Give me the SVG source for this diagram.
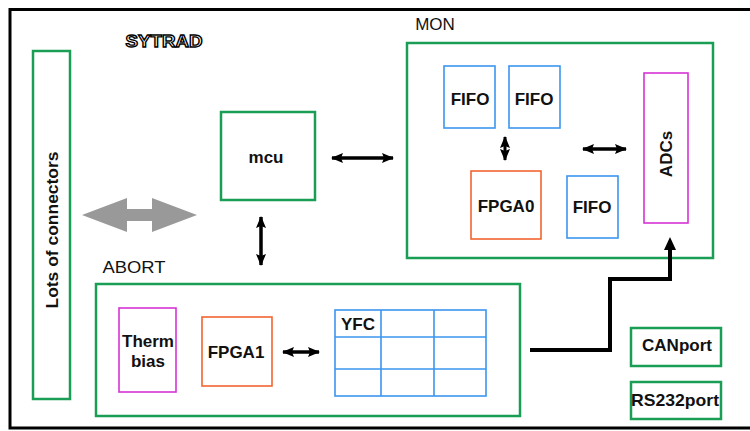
<svg xmlns="http://www.w3.org/2000/svg" width="750" height="431" viewBox="0 0 750 431">
<defs>
<style>
.t{font-family:"Liberation Sans",Arial,sans-serif;font-size:16px;font-weight:bold;fill:#111;text-anchor:middle}
.g{fill:none;stroke:#1a9e55;stroke-width:2.5}
.b{fill:none;stroke:#3b96f0;stroke-width:1.6}
.o{fill:none;stroke:#f26531;stroke-width:1.6}
.m{fill:none;stroke:#d633d6;stroke-width:1.6}
.a{fill:none;stroke:#000;stroke-width:3.5;marker-start:url(#ah);marker-end:url(#ah)}
</style>
<marker id="ah" viewBox="0 0 12 10" refX="11" refY="5" markerWidth="12" markerHeight="10" markerUnits="userSpaceOnUse" orient="auto-start-reverse">
<path d="M0,0 L12,5 L0,10 L2,5 z" fill="#000"/>
</marker>
</defs>
<rect width="750" height="431" fill="#fff"/>
<path d="M750,9.5 H10 V428 H750" fill="none" stroke="#000" stroke-width="3"/>
<g id="sytrad"><text x="164" y="47" class="t" style="fill:#fff;stroke:#000;stroke-width:1.3;font-size:17px" textLength="77" lengthAdjust="spacingAndGlyphs">SYTRAD</text></g>
<g id="connectors-box"><rect x="33" y="51" width="37" height="348" class="g"/>
<text class="t" transform="translate(58,230) rotate(-90)" style="font-size:17px" textLength="157" lengthAdjust="spacingAndGlyphs">Lots of connectors</text></g>
<g id="mcu"><rect x="221" y="112" width="94" height="88" class="g"/><text x="266" y="163" class="t" style="font-size:17px">mcu</text></g>
<g id="mon"><text x="435" y="30" class="t" style="font-weight:normal;font-size:17px">MON</text>
<rect x="407" y="43" width="306" height="215" class="g"/>
<g id="fifo1"><rect x="444" y="66" width="51" height="62" class="b"/><text x="470" y="105" class="t" style="font-size:17px">FIFO</text></g>
<g id="fifo2"><rect x="509" y="66" width="51" height="62" class="b"/><text x="534" y="105" class="t" style="font-size:17px">FIFO</text></g>
<g id="fpga0"><rect x="471" y="171" width="70" height="68" class="o"/><text x="506" y="212" class="t" style="font-size:17px">FPGA0</text></g>
<g id="fifo3"><rect x="567" y="176" width="51" height="62" class="b"/><text x="592" y="213" class="t" style="font-size:17px">FIFO</text></g>
<g id="adcs"><rect x="644" y="73" width="44" height="150" class="m"/><text class="t" transform="translate(672,154) rotate(-90)" style="font-size:17px">ADCs</text></g>
</g>
<g id="abort"><text x="134" y="273" class="t" style="font-weight:normal;font-size:17px" textLength="63" lengthAdjust="spacingAndGlyphs">ABORT</text>
<rect x="96" y="284" width="424" height="132" class="g"/>
<g id="therm"><rect x="119" y="308" width="57" height="84" class="m"/><text x="148" y="347" class="t" style="font-size:17px">Therm</text><text x="148" y="367" class="t" style="font-size:17px">bias</text></g>
<g id="fpga1"><rect x="202" y="317" width="70" height="69" class="o"/><text x="236" y="358" class="t" style="font-size:17px">FPGA1</text></g>
<g id="yfc"><rect x="335" y="310" width="151" height="86" class="b"/><path d="M381,310 V396 M434,310 V396 M335,337 H486 M335,369 H486" class="b"/><text x="358" y="330" class="t" style="font-size:17px">YFC</text></g>
</g>
<g id="canport"><rect x="631" y="328" width="90" height="38" class="g"/><text x="677" y="351" class="t" style="font-size:17px" textLength="70" lengthAdjust="spacingAndGlyphs">CANport</text></g>
<g id="rs232port"><rect x="631" y="382" width="90" height="37" class="g"/><text x="675" y="406" class="t" style="font-size:17px" textLength="88" lengthAdjust="spacingAndGlyphs">RS232port</text></g>
<g id="links">
<path d="M82,215 L127,198 L127,209 L152,209 L152,198 L197,215 L152,232 L152,221 L127,221 L127,232 z" fill="#999"/>
<path d="M332,158 H393" class="a"/>
<path d="M261,217 V265" class="a"/>
<path d="M505,137 V160" class="a" style="stroke-width:3"/>
<path d="M583,149 H626" class="a"/>
<path d="M283,352 H319" class="a"/>
<path d="M530,350 H610 V279 H670 V246" fill="none" stroke="#000" stroke-width="4"/>
<path d="M664,250 L670,237 L676,250 z" fill="#000"/>
</g>
</svg>
